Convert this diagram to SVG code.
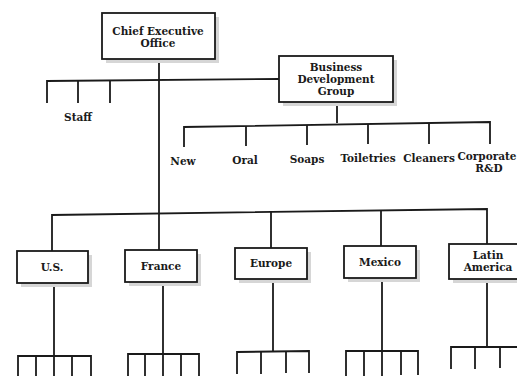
<svg xmlns="http://www.w3.org/2000/svg" width="517" height="376" viewBox="0 0 517 376">
<style>
.box{fill:#fff;stroke:#1a1a1a;stroke-width:1.8}
.sh{fill:#d6d6d6}
.ln{fill:none;stroke:#1a1a1a;stroke-width:1.8}
text{font-family:"DejaVu Serif","Liberation Serif",serif;font-weight:bold;font-size:10.5px;fill:#1a1a1a;text-anchor:middle}
</style>
<rect width="517" height="376" fill="#fff"/>
<g id="connectors">
<line class="ln" x1="159" y1="59" x2="159" y2="250"/>
<polyline class="ln" points="47,103 47,81 279,79"/>
<line class="ln" x1="78" y1="81" x2="78" y2="103"/>
<line class="ln" x1="110" y1="81" x2="110" y2="103"/>
<line class="ln" x1="337" y1="102" x2="337" y2="123"/>
<polyline class="ln" points="184,147 184,127 490,122 490,144"/>
<line class="ln" x1="246" y1="126" x2="246" y2="146"/>
<line class="ln" x1="307" y1="125" x2="307" y2="145"/>
<line class="ln" x1="368" y1="124" x2="368" y2="144"/>
<line class="ln" x1="429" y1="123" x2="429" y2="144"/>
<polyline class="ln" points="52,251 52,215 487,209 487,244"/>
<line class="ln" x1="271" y1="212" x2="271" y2="248"/>
<line class="ln" x1="381" y1="210" x2="381" y2="246"/>
<line class="ln" x1="54" y1="283" x2="54" y2="376"/>
<polyline class="ln" points="18,376 18,356 91,356 91,376"/>
<line class="ln" x1="36" y1="356" x2="36" y2="376"/>
<line class="ln" x1="72" y1="356" x2="72" y2="376"/>
<line class="ln" x1="163" y1="282" x2="163" y2="376"/>
<polyline class="ln" points="128,376 128,354 199,354 199,376"/>
<line class="ln" x1="145" y1="354" x2="145" y2="376"/>
<line class="ln" x1="181" y1="354" x2="181" y2="376"/>
<line class="ln" x1="273" y1="279" x2="273" y2="352"/>
<polyline class="ln" points="237,374 237,352 309,351 309,373"/>
<line class="ln" x1="261" y1="352" x2="261" y2="374"/>
<line class="ln" x1="286" y1="351" x2="286" y2="373"/>
<line class="ln" x1="382" y1="278" x2="382" y2="376"/>
<polyline class="ln" points="346,376 346,351 418,351 418,375"/>
<line class="ln" x1="364" y1="351" x2="364" y2="376"/>
<line class="ln" x1="401" y1="351" x2="401" y2="375"/>
<line class="ln" x1="487" y1="279" x2="487" y2="347"/>
<polyline class="ln" points="451,369 451,347 517,347"/>
<line class="ln" x1="475" y1="347" x2="475" y2="369"/>
<line class="ln" x1="500" y1="347" x2="500" y2="368"/>
</g>
<g id="ceo">
<rect class="sh" x="106" y="17" width="113" height="46"/>
<rect class="box" x="102" y="13" width="113" height="46"/>
<text x="158" y="35">Chief Executive</text>
<text x="158" y="47">Office</text>
</g>
<g id="staff"><text x="78" y="121">Staff</text></g>
<g id="bdg">
<rect class="sh" x="283" y="60" width="114" height="46"/>
<rect class="box" x="279" y="56" width="114" height="46"/>
<text x="336" y="71">Business</text>
<text x="336" y="83">Development</text>
<text x="336" y="95">Group</text>
</g>
<g id="new"><text x="183" y="165">New</text></g>
<g id="oral"><text x="245" y="164">Oral</text></g>
<g id="soaps"><text x="307" y="163">Soaps</text></g>
<g id="toiletries"><text x="368" y="162">Toiletries</text></g>
<g id="cleaners"><text x="429" y="162">Cleaners</text></g>
<g id="corporate"><text x="487" y="160">Corporate</text><text x="489" y="172">R&amp;D</text></g>
<g id="us">
<rect class="sh" x="21" y="255" width="71" height="32"/>
<rect class="box" x="17" y="251" width="71" height="32"/>
<text x="52" y="271">U.S.</text>
</g>
<g id="france">
<rect class="sh" x="129" y="254" width="72" height="32"/>
<rect class="box" x="125" y="250" width="72" height="32"/>
<text x="161" y="270">France</text>
</g>
<g id="europe">
<rect class="sh" x="239" y="252" width="72" height="31"/>
<rect class="box" x="235" y="248" width="72" height="31"/>
<text x="271" y="267">Europe</text>
</g>
<g id="mexico">
<rect class="sh" x="348" y="250" width="72" height="32"/>
<rect class="box" x="344" y="246" width="72" height="32"/>
<text x="380" y="266">Mexico</text>
</g>
<g id="latin-america">
<rect class="sh" x="453" y="248" width="70" height="35"/>
<rect class="box" x="449" y="244" width="70" height="35"/>
<text x="488" y="259">Latin</text>
<text x="488" y="271">America</text>
</g>
</svg>
